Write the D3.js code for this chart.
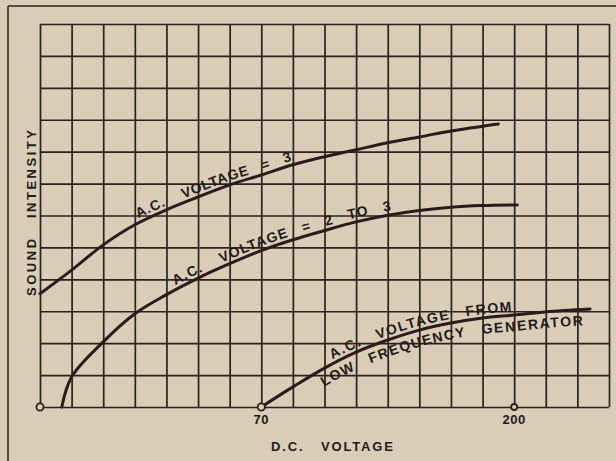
<!DOCTYPE html>
<html><head><meta charset="utf-8">
<script src="https://cdn.jsdelivr.net/npm/d3@7"></script>
<style>
html,body{margin:0;padding:0;background:#d9cdb7;}
svg{display:block;}
text{font-family:"Liberation Sans",Arial,sans-serif;font-weight:bold;fill:#231b18;}
</style></head>
<body>
<script>
// grid units: x 0..18 divisions, y 0..12 divisions
const xDivisions = 18;
const yDivisions = 12;
const xTickPos = [7, 15];
const xTickLabels = ["70", "200"];
const markerPos = [0, 7, 15];

const curveAC3 = [[0,3.55],[1,4.29],[2,5.08],[3,5.71],[4,6.18],[5,6.58],[6,6.96],[7,7.27],[8,7.59],[9,7.84],[10,8.06],[11,8.28],[12,8.46],[13,8.65],[14.5,8.87]];
const curveAC2to3 = [[0.69,0],[1,0.94],[2,2.04],[3,2.92],[4,3.52],[5,4.04],[6,4.49],[7,4.90],[8,5.24],[9,5.53],[10,5.80],[11,6.01],[12,6.16],[13,6.26],[14,6.31],[15.1,6.33]];
const curveLowFreq = [[7,0],[8,0.63],[9,1.22],[10,1.72],[11,2.10],[12,2.41],[13,2.63],[14,2.79],[15,2.88],[16,2.98],[17.4,3.07]];

const W = 616, H = 461;
const svg = d3.select("body").append("svg").attr("width", W).attr("height", H);

const x = d3.scaleLinear().domain([0, xDivisions]).range([40, 609]);
const y = d3.scaleLinear().domain([0, yDivisions]).range([407, 24]);

const ink = "#2a221e";

// outer frame
svg.append("line").attr("x1", 8).attr("y1", 6).attr("x2", W).attr("y2", 6).attr("stroke", ink).attr("stroke-width", 1.5);
svg.append("line").attr("x1", 8).attr("y1", 6).attr("x2", 8).attr("y2", H).attr("stroke", ink).attr("stroke-width", 1.5);

// grid via axes
const gx = svg.append("g").attr("transform", `translate(0,${y(0)})`)
  .call(d3.axisBottom(x).tickValues(d3.range(0, xDivisions + 1)).tickSize(-(y(0) - y(yDivisions))).tickFormat(""));
const gy = svg.append("g").attr("transform", `translate(${x(0)},0)`)
  .call(d3.axisLeft(y).tickValues(d3.range(0, yDivisions + 1)).tickSize(-(x(xDivisions) - x(0))).tickFormat(""));
[gx, gy].forEach(g => {
  g.select(".domain").remove();
  g.selectAll(".tick line").attr("stroke", ink).attr("stroke-width", 1.7);
});

// curves
const line = d3.line().x(d => x(d[0])).y(d => y(d[1])).curve(d3.curveCatmullRom.alpha(0.5));
const curves = [
  {id: "c1", data: curveAC3},
  {id: "c2", data: curveAC2to3},
  {id: "c3", data: curveLowFreq}
];
curves.forEach(c => {
  svg.append("path").attr("id", c.id).attr("d", line(c.data))
    .attr("fill", "none").attr("stroke", "#2b1c1a").attr("stroke-width", 3).attr("stroke-linecap", "round");
});

function lenAtX(node, tx) {
  let lo = 0, hi = node.getTotalLength();
  for (let i = 0; i < 40; i++) {
    const mid = (lo + hi) / 2;
    if (node.getPointAtLength(mid).x < tx) lo = mid; else hi = mid;
  }
  return lo;
}

const curveLabels = [
  {id: "c1", text: "A.C.    VOLTAGE   =   3", startX: 140, endX: 293, dy: -4},
  {id: "c2", text: "A.C.    VOLTAGE   =   2   TO   3", startX: 177, endX: 392, dy: -4},
  {id: "c3", text: "A.C.   VOLTAGE   FROM", startX: 334, endX: 512, dy: -4},
  {id: "c3", text: "LOW   FREQUENCY   GENERATOR", startX: 316, endX: 582, dy: 16}
];
curveLabels.forEach(l => {
  const node = document.getElementById(l.id);
  const s = lenAtX(node, l.startX), e = lenAtX(node, l.endX);
  svg.append("text").attr("font-size", 14).attr("dy", l.dy)
    .append("textPath").attr("href", "#" + l.id)
    .attr("startOffset", s)
    .attr("textLength", e - s).attr("lengthAdjust", "spacing")
    .style("white-space", "pre")
    .text(l.text);
});

// markers
svg.selectAll("circle.mk").data(markerPos).join("circle")
  .attr("cx", d => x(d)).attr("cy", y(0)).attr("r", (d, i) => i === 2 ? 3 : 3.6)
  .attr("fill", "#d9cdb7").attr("stroke", ink).attr("stroke-width", 1.8);

// tick labels
svg.selectAll("text.xt").data(xTickPos).join("text")
  .attr("x", d => x(d)).attr("y", 424).attr("text-anchor", "middle")
  .attr("font-size", 13).attr("letter-spacing", 0.5)
  .text((d, i) => xTickLabels[i]);

// axis titles
svg.append("text").attr("x", 332).attr("y", 451).attr("text-anchor", "middle")
  .attr("font-size", 13).attr("textLength", 122).attr("lengthAdjust", "spacing").style("white-space", "pre")
  .text("D.C.   VOLTAGE");
svg.append("text").attr("transform", "translate(36,213) rotate(-90)").attr("text-anchor", "middle")
  .attr("font-size", 13).attr("textLength", 166).attr("lengthAdjust", "spacing").style("white-space", "pre")
  .text("SOUND   INTENSITY");
</script>
</body></html>
